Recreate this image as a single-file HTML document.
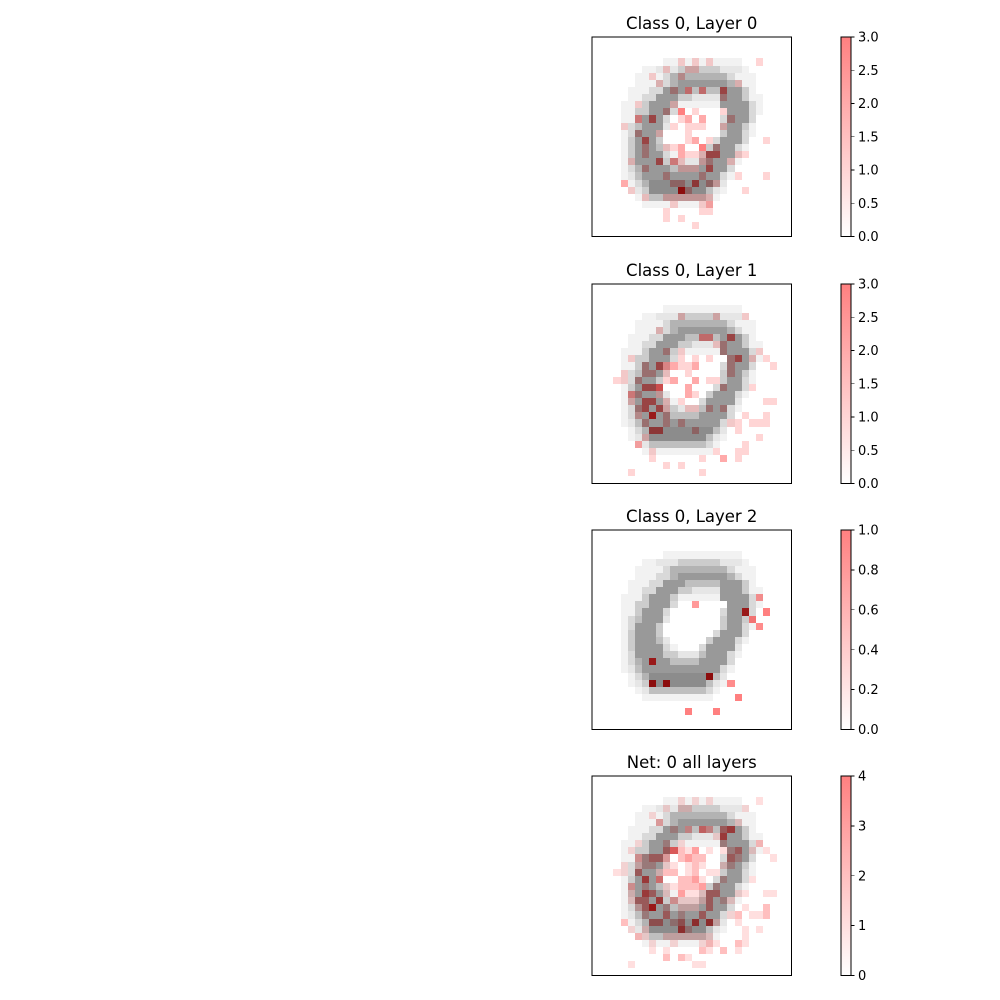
<!DOCTYPE html>
<html><head><meta charset="utf-8"><style>
body{margin:0;background:#fff}
svg{display:block;font-family:"DejaVu Sans","Liberation Sans",sans-serif}
</style></head><body>
<svg id="fig" width="1000" height="1000" viewBox="0 0 1000 1000" xmlns="http://www.w3.org/2000/svg" shape-rendering="crispEdges">
<defs><linearGradient id="cb" x1="0" y1="1" x2="0" y2="0"><stop offset="0" stop-color="#ffffff"/><stop offset="1" stop-color="#ff8080"/></linearGradient></defs>
</svg>
<script>
const titles = ["Class 0, Layer 0","Class 0, Layer 1","Class 0, Layer 2","Net: 0 all layers"];
const maxVals = [3,3,1,4];
const tickSets = [
  ["0.0","0.5","1.0","1.5","2.0","2.5","3.0"],
  ["0.0","0.5","1.0","1.5","2.0","2.5","3.0"],
  ["0.0","0.2","0.4","0.6","0.8","1.0"],
  ["0","1","2","3","4"]
];
const tickValues = [[0,0.5,1,1.5,2,2.5,3],[0,0.5,1,1.5,2,2.5,3],[0,0.2,0.4,0.6,0.8,1],[0,1,2,3,4]];
// digit image intensities (0-9 -> 0..0.9), 28 rows x 28 cols
const digit = [
"0000000000000000000000000000",
"0000000000000000000000000000",
"0000000000000000000000000000",
"0000000000111111111110000000",
"0000000112224444442221000000",
"0000001111366666666311100000",
"0000001113368888888631100000",
"0000011133888555558884100000",
"0000011338884422228884110000",
"0000111488841111118888310000",
"0000114488830000000888310000",
"0000114888300000003888300000",
"0000135888200000004884100000",
"0000138884000000004883100000",
"0000148884000000038883000000",
"0000148885200000488831000000",
"0000148888310003888820000000",
"0000138888442225888310000000",
"0000136888855558888300000000",
"0000125888888888883100000000",
"0000013699999999952000000000",
"0000012499999999521000000000",
"0000001255555555310000000000",
"0000000111111111100000000000",
"0000000000000000000000000000",
"0000000000000000000000000000",
"0000000000000000000000000000",
"0000000000000000000000000000"
];
// sparse overlays: [row, col, value]
const layer0 = [[3,12,1],[3,14,1],[3,16,1],[3,23,1],[4,10,1],[4,13,1],[4,14,1],[5,8,1],[5,12,1],[6,9,1],[6,20,1],
[7,11,1],[7,13,2],[7,15,2],[7,18,2],[8,18,1],[9,6,1],[9,11,1],[10,12,3],[10,10,1],[10,14,1],[10,18,1],
[11,6,2],[11,8,2],[11,12,1],[11,13,2],[11,15,2],[11,19,1],[12,4,1],[12,11,1],[12,13,1],[12,14,1],[12,15,1],[12,18,1],
[13,6,1],[13,9,1],[13,13,1],[14,7,2],[14,13,1],[14,14,2],[14,16,1],[14,24,1],[15,7,1],[15,10,1],[15,11,1],[15,12,2],[15,15,3],[15,17,1],
[16,7,1],[16,12,2],[16,13,1],[16,14,1],[16,15,1],[16,16,2],[16,17,2],[16,20,1],[16,21,1],
[17,5,1],[17,9,2],[17,11,2],[17,12,1],[17,15,1],[17,16,1],[17,19,1],[18,7,1],[18,12,1],[18,13,1],[18,14,1],[18,16,2],
[19,10,1],[19,15,1],[19,20,1],[19,24,1],[20,4,2],[20,11,1],[20,12,1],[20,14,2],[20,16,1],[20,17,1],
[21,5,1],[21,12,3],[21,13,1],[21,21,1],[22,7,1],[22,10,1],[22,11,1],[22,12,1],[22,13,1],[22,14,1],[22,15,1],[22,16,1],
[23,11,1],[23,15,1],[23,16,2],[24,10,1],[24,15,1],[24,16,1],[25,10,1],[25,12,1],[26,14,1]];
const layer1 = [[4,12,1],[4,17,1],[4,21,1],[6,9,1],[7,15,2],[7,16,2],[7,19,2],[8,17,1],[8,18,1],
[9,10,1],[9,12,1],[9,18,1],[9,23,1],[10,5,1],[10,12,1],[10,14,1],[10,16,1],[10,19,1],[10,20,2],[10,22,1],[10,24,1],
[11,7,1],[11,9,2],[11,10,2],[11,11,2],[11,12,1],[11,13,1],[11,14,2],[11,19,1],[11,25,1],
[12,4,1],[12,7,1],[12,8,1],[12,10,1],[12,13,1],[12,19,1],[13,3,1],[13,4,1],[13,6,1],[13,10,1],[13,11,2],[13,14,2],[13,16,1],[13,17,1],
[14,7,2],[14,8,2],[14,9,3],[14,13,2],[14,18,1],[14,22,1],[15,5,2],[15,6,1],[15,9,1],[15,13,2],[15,14,1],
[16,5,1],[16,7,2],[16,8,2],[16,10,1],[16,12,1],[16,24,1],[16,25,1],
[17,6,1],[17,7,2],[17,9,2],[17,10,1],[17,13,1],[17,14,1],[17,16,1],[17,18,1],
[18,6,1],[18,8,3],[18,10,1],[18,21,1],[18,24,1],[19,7,1],[19,10,1],[19,12,1],[19,19,1],[19,20,1],[19,22,1],[19,23,1],[19,24,1],
[20,8,2],[20,9,2],[20,14,1],[20,20,1],[21,7,1],[21,23,1],[22,6,2],[22,21,1],[23,8,1],[23,17,1],[23,20,1],[23,21,1],
[24,8,1],[24,15,1],[24,18,2],[24,20,1],[25,10,1],[25,12,1],[26,5,1],[26,15,1]];
const layer2 = [[9,23,0.8],[10,14,0.8],[11,21,1],[11,24,1],[12,22,1],[13,23,0.9],[18,8,1],[20,16,1],[21,8,1],[21,10,1],[21,19,0.9],[23,20,1],[25,13,1],[25,17,1]];
const netAll = [[3,12,1],[3,14,1],[3,16,1],[3,23,1],[4,10,1],[4,12,1],[4,13,1],[4,21,1],[5,8,1],[6,9,2],[6,20,1],
[7,11,1],[7,13,2],[7,15,3],[7,16,2],[7,18,2],[7,19,3],[8,17,1],[8,18,3],[9,6,1],[9,10,1],[9,12,1],[9,18,1],[9,23,2],
[10,5,1],[10,10,2],[10,11,4],[10,12,2],[10,13,1],[10,14,3],[10,16,1],[10,18,1],[10,19,1],[10,20,2],[10,22,1],[10,24,1],
[11,6,2],[11,7,1],[11,8,2],[11,9,2],[11,10,2],[11,12,2],[11,13,3],[11,14,2],[11,15,2],[11,19,2],[11,20,1],[11,25,1],
[12,4,1],[12,6,1],[12,7,1],[12,8,1],[12,10,1],[12,11,1],[12,13,1],[12,14,2],[12,15,1],[12,18,1],[12,19,1],
[13,3,1],[13,4,1],[13,6,2],[13,9,1],[13,10,2],[13,11,2],[13,13,1],[13,14,2],[13,16,1],[13,17,1],
[14,7,3],[14,9,3],[14,12,2],[14,13,2],[14,14,3],[14,15,1],[14,18,1],[14,22,1],
[15,5,2],[15,7,1],[15,10,1],[15,11,1],[15,12,2],[15,13,2],[15,14,2],[15,15,3],[15,17,1],
[16,5,1],[16,7,3],[16,8,2],[16,10,1],[16,12,3],[16,13,1],[16,14,1],[16,15,1],[16,16,2],[16,17,2],[16,20,1],[16,21,1],[16,24,1],[16,25,1],
[17,5,1],[17,6,2],[17,7,2],[17,9,3],[17,11,2],[17,12,1],[17,13,1],[17,14,1],[17,15,1],[17,16,2],[17,18,1],[17,19,1],
[18,6,1],[18,7,2],[18,8,4],[18,10,1],[18,12,1],[18,13,1],[18,14,1],[18,16,2],[18,21,1],[18,24,2],
[19,7,1],[19,10,2],[19,12,1],[19,15,2],[19,19,1],[19,20,2],[19,22,1],[19,23,1],[19,24,2],
[20,4,2],[20,8,2],[20,9,2],[20,11,1],[20,12,2],[20,14,3],[20,16,3],[20,17,1],[20,20,1],
[21,5,1],[21,7,1],[21,12,3],[21,13,1],[21,21,1],[21,23,1],
[22,6,2],[22,7,1],[22,10,1],[22,11,1],[22,12,1],[22,13,1],[22,14,1],[22,15,1],[22,16,1],[22,21,1],
[23,8,1],[23,11,1],[23,15,1],[23,16,2],[23,17,1],[23,20,2],[23,21,1],
[24,8,1],[24,10,1],[24,15,2],[24,16,1],[24,18,2],[24,20,1],[25,10,2],[25,12,2],[25,13,1],[26,5,1],[26,14,1],[26,15,1]];
const overlays = [layer0, layer1, layer2, netAll];

const NS = "http://www.w3.org/2000/svg";
const svg = document.getElementById("fig");
const AX_X = 592, AX_SIZE = 199.5, AX_TOPS = [37,284,530,776];
const CB_X = 841, CB_W = 10;
function mk(tag, attrs, parent){const e=document.createElementNS(NS,tag);for(const k in attrs)e.setAttribute(k,attrs[k]);(parent||svg).appendChild(e);return e;}
const cell = AX_SIZE/28;
function xScale(c){return AX_X + c*cell;}
function yScale(top, r){return top + r*cell;}

AX_TOPS.forEach((top, p) => {
  const g = mk("g", {});
  
  
  const maxV = maxVals[p];
  const red = {};
  overlays[p].forEach(([r,c,v]) => { red[r*28+c] = Math.min(1, v/maxV); });
  for (let r = 0; r < 28; r++) {
    for (let c = 0; c < 28; c++) {
      const d = +digit[r][c];
      const t = red[r*28+c] || 0;
      if (!d && !t) continue;
      const gl = 255*(1-d/10);
      const rr = Math.round(0.5*255 + 0.5*gl);
      const gb = Math.round(0.5*255*(1-t) + 0.5*gl);
      const x0 = Math.round(xScale(c)), x1 = Math.round(xScale(c+1));
      const y0 = Math.round(yScale(top,r)), y1 = Math.round(yScale(top,r+1));
      const rc = mk("rect", {x:x0, y:y0, width:x1-x0, height:y1-y0, fill:`rgb(${rr},${gb},${gb})`}, g);
      
      
    }
  }
  const frame = mk("rect", {x:AX_X, y:top, width:AX_SIZE, height:AX_SIZE, fill:"none", stroke:"#000", "stroke-width":1}, g);
  
  
  const tt = mk("text", {x:AX_X+AX_SIZE/2, y:top-8, "text-anchor":"middle", "font-size":16.5, fill:"#000"}, g);
  tt.textContent = titles[p];
  
  
  const cb = mk("rect", {x:CB_X, y:top, width:CB_W, height:AX_SIZE, fill:"url(#cb)", stroke:"#000", "stroke-width":0.8}, g);
  
  
  tickValues[p].forEach((tv, i) => {
    const y = top + AX_SIZE - (tv/maxV)*AX_SIZE;
    const tl = mk("line", {x1:CB_X+CB_W, x2:CB_X+CB_W+3.5, y1:y, y2:y, stroke:"#000", "stroke-width":0.8}, g);
    
    
    const lb = mk("text", {x:CB_X+CB_W+7, y:y+4.6, "font-size":13, fill:"#000"}, g);
    lb.textContent = tickSets[p][i];
    
    
  });
});
</script>
</body></html>
